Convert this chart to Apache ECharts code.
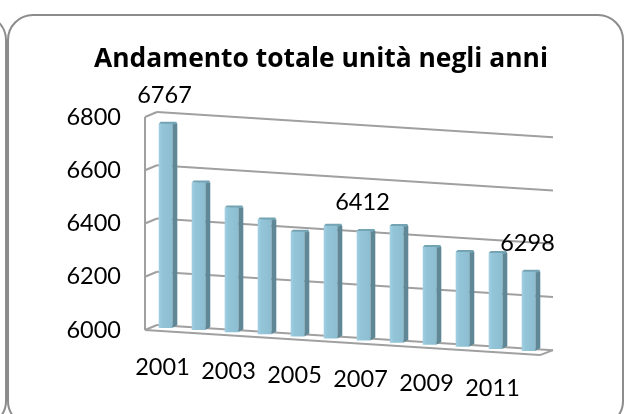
<!DOCTYPE html>
<html><head><meta charset="utf-8">
<style>html,body{margin:0;padding:0;background:#fff}#c{width:625px;height:414px}</style>
<script src="https://cdn.jsdelivr.net/npm/echarts@6/dist/echarts.min.js"></script>
</head><body><div id="c"></div>
<script>
const chartTitle = 'Andamento totale unità negli anni';
const years = ['2001','2002','2003','2004','2005','2006','2007','2008','2009','2010','2011','2012'];
const totals = [6767,6554,6468,6431,6393,6423,6412,6438,6367,6356,6360,6298];
const labelledYears = ['2001','2007','2012'];
const shownYearLabels = ['2001','2003','2005','2007','2009','2011'];
const yTicks = [6000,6200,6400,6600,6800];

const FONT = 'Lato';
const SLOPE = 0.0635;
const shear = x => -2 + SLOPE * (x - 165.5);

const chart = echarts.init(document.getElementById('c'), null, {renderer:'canvas'});
const line = (x1,y1,x2,y2,w) => ({type:'line',shape:{x1,y1,x2,y2},style:{stroke:'#a0a0a0',lineWidth:w||2}});

chart.setOption({
  animation:false,
  backgroundColor:'#fff',
  title:{text:chartTitle,left:316,top:41,textAlign:'center',
    textStyle:{fontFamily:'Open Sans',fontSize:26.4,fontWeight:'bold',color:'#000'}},
  graphic:[
    {type:'rect',silent:true,z:0,shape:{x:-620,y:15,width:626,height:411,r:25},style:{fill:'none',stroke:'#8c8c8c',lineWidth:2}},
    {type:'rect',silent:true,z:0,shape:{x:8,y:15,width:615,height:411,r:25},style:{fill:'none',stroke:'#8c8c8c',lineWidth:2}}
  ],
  grid:{left:149,width:396,top:117,height:213,containLabel:false},
  xAxis:{type:'category',data:years,axisLine:{show:false},axisTick:{show:false},axisLabel:{show:false},splitLine:{show:false}},
  yAxis:{type:'value',min:6000,max:6800,interval:200,
    axisLine:{show:false},axisTick:{show:false},splitLine:{show:false},
    axisLabel:{fontFamily:FONT,fontSize:23.5,color:'#000',margin:28,formatter:v=>String(v)}},
  series:[
    {
      type:'custom',z:1,silent:true,
      data:yTicks.map(v=>[v]),
      encode:{y:0},
      renderItem(params,api){
        const v=api.value(0);
        const c0=api.coord([0,v])[0], band=api.coord([1,v])[0]-c0;
        const y=api.coord([0,v])[1];
        const xl=c0-band/2-4;
        const xb=xl+12, xr=c0+band*11.5+8;
        const yb=y-5, yr=yb+SLOPE*(xr-xb);
        const kids=[line(xl,y,xb,yb),line(xb,yb,xr,yr)];
        if(v===yTicks[0]){
          const y0=api.coord([0,yTicks[yTicks.length-1]])[1];
          kids.push(line(xl,y,xl,y0));
          const xf=xr-13, yf=y+SLOPE*(xf-xl);
          kids.push(line(xl,y,xf,yf),line(xf,yf,xr,yr));
        }
        return {type:'group',children:kids};
      }
    },
    {
      type:'custom',z:2,silent:true,
      data:years.map((y,i)=>[i,totals[i]]),
      encode:{x:0,y:1},
      renderItem(params,api){
        const i=api.value(0), v=api.value(1);
        const cx=api.coord([i,v])[0], top=api.coord([i,v])[1], bot=api.coord([i,6000])[1];
        const s=shear(cx), hw=6.8, d=5, r=2;
        const xl=cx-hw, xr=cx+hw;
        const yt=top+s, yb=bot+s;
        return {type:'group',children:[
          {type:'polygon',shape:{points:[[xr,yt],[xr+d,yt],[xr+d,yb-3],[xr,yb]]},style:{fill:'#5f8796'}},
          {type:'polygon',shape:{points:[[xl,yt],[xl+r,yt-2],[xr+d-1,yt-2],[xr+d,yt],[xr,yt+1]]},style:{fill:'#74a3b4'}},
          {type:'rect',shape:{x:xl,y:yt,width:xr-xl,height:yb-yt},
            style:{fill:new echarts.graphic.LinearGradient(0,0,1,0,[
              {offset:0,color:'#a3d0e2'},{offset:0.25,color:'#93c5d9'},{offset:1,color:'#8dbdd1'}])}}
        ]};
      }
    },
    {
      type:'custom',z:3,silent:true,
      data:years.map((y,i)=>[i,totals[i]]).filter(d=>labelledYears.includes(years[d[0]])),
      encode:{x:0,y:1},
      renderItem(params,api){
        const p=api.coord([api.value(0),api.value(1)]);
        return {type:'text',style:{text:String(api.value(1)),x:p[0]-1,y:p[1]+shear(p[0])-28,
          textAlign:'center',textVerticalAlign:'middle',font:'23.5px '+FONT,fill:'#000'}};
      }
    },
    {
      type:'custom',z:3,silent:true,
      data:years.map((y,i)=>[i,6000]).filter(d=>shownYearLabels.includes(years[d[0]])),
      encode:{x:0,y:1},
      renderItem(params,api){
        const p=api.coord([api.value(0),6000]);
        return {type:'text',style:{text:years[api.value(0)],x:p[0]-3,y:p[1]+shear(p[0])+39,
          textAlign:'center',textVerticalAlign:'middle',font:'23.5px '+FONT,fill:'#000'}};
      }
    }
  ]
});
</script></body></html>
